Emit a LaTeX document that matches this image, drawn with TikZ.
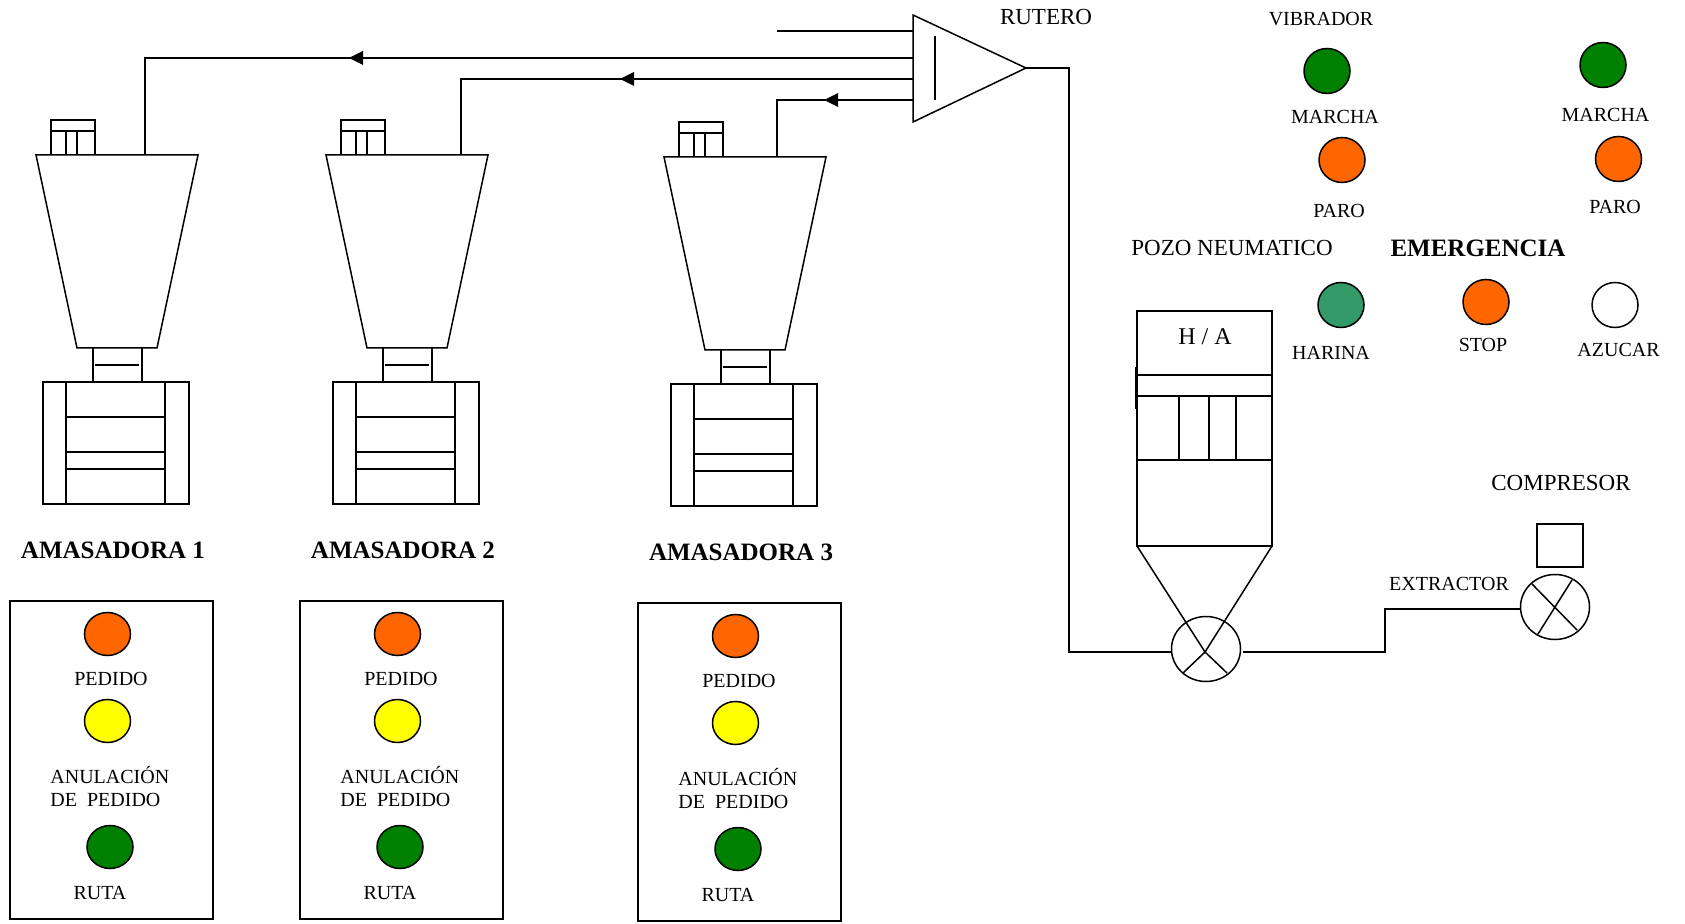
\documentclass[tikz,border=0pt]{standalone}
\usepackage{fontspec}
\setmainfont{Liberation Serif}
\usetikzlibrary{shapes.geometric,arrows.meta}
\definecolor{ledorange}{HTML}{FF6600}
\definecolor{ledyellow}{HTML}{FFFF00}
\definecolor{ledgreen}{HTML}{008000}
\definecolor{ledsea}{HTML}{339966}
\tikzset{
  ln/.style={line width=0.75pt,line join=miter},
  led/.style={ellipse,draw,line width=0.75pt,inner sep=0pt,outer sep=0pt,minimum width=23pt,minimum height=21.5pt},
  ledbig/.style={led,minimum height=22.5pt},
  valve/.style={ellipse,draw,line width=0.75pt,inner sep=0pt,outer sep=0pt,minimum width=34.5pt,minimum height=32.5pt},
  lab/.style={inner sep=0pt,font=\fontsize{10}{12}\selectfont},
  labm/.style={inner sep=0pt,font=\fontsize{11.5}{13}\selectfont},
  labb/.style={inner sep=0pt,font=\fontsize{12.5}{15}\selectfont\bfseries},
  pipe/.style={ln},
  arrowmark/.style={fill=black,draw=none},
}
\begin{document}
\begin{tikzpicture}[x=0.5pt,y=-0.5pt]
\useasboundingbox (0,0) rectangle (1685,924);
\fill[white] (0,0) rectangle (1685,924);
\begin{scope}[yshift=-0.5pt]

% three mixers with their panels
\foreach \i/\dx/\dy/\px in {1/0/0/145,2/290/0/171,3/628/2/149}{
  \begin{scope}[shift={(\dx*0.5pt,-\dy*0.5pt)}]
    % small box on top
    \draw[ln] (51,154) -- (51,119) -- (95,119) -- (95,154);
    \draw[ln] (51,130) -- (95,130) (66,130) -- (66,154) (77,130) -- (77,154);
    % hopper
    \draw[ln] (36,154) -- (198,154) -- (157,347) -- (77,347) -- cycle;
    % neck
    \draw[ln] (93,347) -- (93,381) (142,347) -- (142,381) (95,364) -- (139,364);
    % base
    \draw[ln] (43,381) rectangle (189,503);
    \draw[ln] (66,381) -- (66,503) (165,381) -- (165,503);
    \draw[ln] (66,416) -- (165,416) (66,451) -- (165,451) (66,468) -- (165,468);
    \coordinate (ama\i) at (\px,154);
    \node[labb] (amaname\i) at (113,549) {AMASADORA \i};
    % panel
    \draw[ln] (10,600) rectangle (213,918);
    \node[led,fill=ledorange] (ped\i) at (107.5,633) {};
    \node[lab] (pedt\i) at (111,678) {PEDIDO};
    \node[led,fill=ledyellow] (anu\i) at (107.5,720) {};
    \node[lab,anchor=west] (anut\i) at (50,774) {ANULACIÓN};
    \node[lab,anchor=west] (det\i) at (50,799) {DE\ \ PEDIDO};
    \node[led,fill=ledgreen] (rut\i) at (110,846) {};
    \node[lab] (rutt\i) at (100,892) {RUTA};
  \end{scope}
}

% router
\coordinate (rA) at (913,14);
\coordinate (rB) at (913,121);
\coordinate (rT) at (1026,67);
\draw[ln] (rA) -- (rT) -- (rB) -- cycle;
\draw[ln] (935,35) -- (935,99);
\node[labm] (rutero) at (1046,16) {RUTERO};
\coordinate (rin0) at (913,30);
\coordinate (rin1) at (913,57);
\coordinate (rin2) at (913,78);
\coordinate (rin3) at (913,99);
\coordinate (free0) at (777,30);
\draw[pipe] (rin0) -- (free0);
\draw[pipe] (rin1) -| (ama1);
\draw[pipe] (rin2) -| (ama2);
\draw[pipe] (rin3) -| (ama3);
% arrowheads on the lines
\foreach \tip/\yy/\xe in {349/57/416,620/78/688,824/99/868}{
  \fill[arrowmark] (\tip,\yy) -- (\tip+14,\yy-7) -- (\tip+14,\yy+7) -- cycle;
  \draw[line width=1.1pt] (\tip+10,\yy) -- (\xe,\yy);
}

% silo
\draw[ln] (1137,310) rectangle (1272,545);
\draw[ln] (1137,374) -- (1272,374) (1137,395) -- (1272,395) (1137,459) -- (1272,459);
\draw[ln] (1179,395) -- (1179,459) (1209,395) -- (1209,459) (1236,395) -- (1236,459);
\draw[line width=1.1pt] (1136,366) -- (1136,408);
\node[inner sep=0pt,font=\fontsize{12}{14}\selectfont] (ha) at (1205,336) {H / A};
\node[labm] (pozo) at (1232,247) {POZO NEUMATICO};

% valve under silo
\node[valve] (v1) at (1206,648) {};
\coordinate (vc) at (1205,651);
\draw[ln] (1137,545) -- (vc) -- (1272,545);
\draw[ln] (1183,672) -- (vc) -- (1227,672);

% router output to valve
\draw[pipe] (rT) -- (1069,67) |- (1172,651);

% extractor
\node[valve] (v2) at (1555,606) {};
\draw[ln] (1532,583) -- (1577,629) (1572,579) -- (1538,633);
\draw[pipe] (1243,651) -- (1385,651) |- (1521,608);
\node[lab] (extractor) at (1449,583) {EXTRACTOR};
\draw[ln] (1537,523) rectangle (1583,566);
\node[labm] (compresor) at (1561,482) {COMPRESOR};

% right-hand indicators
\node[lab] (vib) at (1321,18) {VIBRADOR};
\node[ledbig,fill=ledgreen] (m1) at (1327,70) {};
\node[lab] (mt1) at (1335,116) {MARCHA};
\node[ledbig,fill=ledorange] (p1) at (1342,159) {};
\node[lab] (pt1) at (1339,210) {PARO};
\node[ledbig,fill=ledgreen] (m2) at (1603,64) {};
\node[lab] (mt2) at (1605.5,114) {MARCHA};
\node[ledbig,fill=ledorange] (p2) at (1618.5,158) {};
\node[lab] (pt2) at (1615,206) {PARO};
\node[labb] (emer) at (1478,247) {EMERGENCIA};
\node[ledbig,fill=ledsea] (har) at (1341,304) {};
\node[lab] (hart) at (1331,352) {HARINA};
\node[ledbig,fill=ledorange] (stop) at (1486,301) {};
\node[lab] (stopt) at (1483,344) {STOP};
\node[ledbig,fill=white] (azu) at (1615,304) {};
\node[lab] (azut) at (1618.5,349) {AZUCAR};
\end{scope}
\end{tikzpicture}
\end{document}
